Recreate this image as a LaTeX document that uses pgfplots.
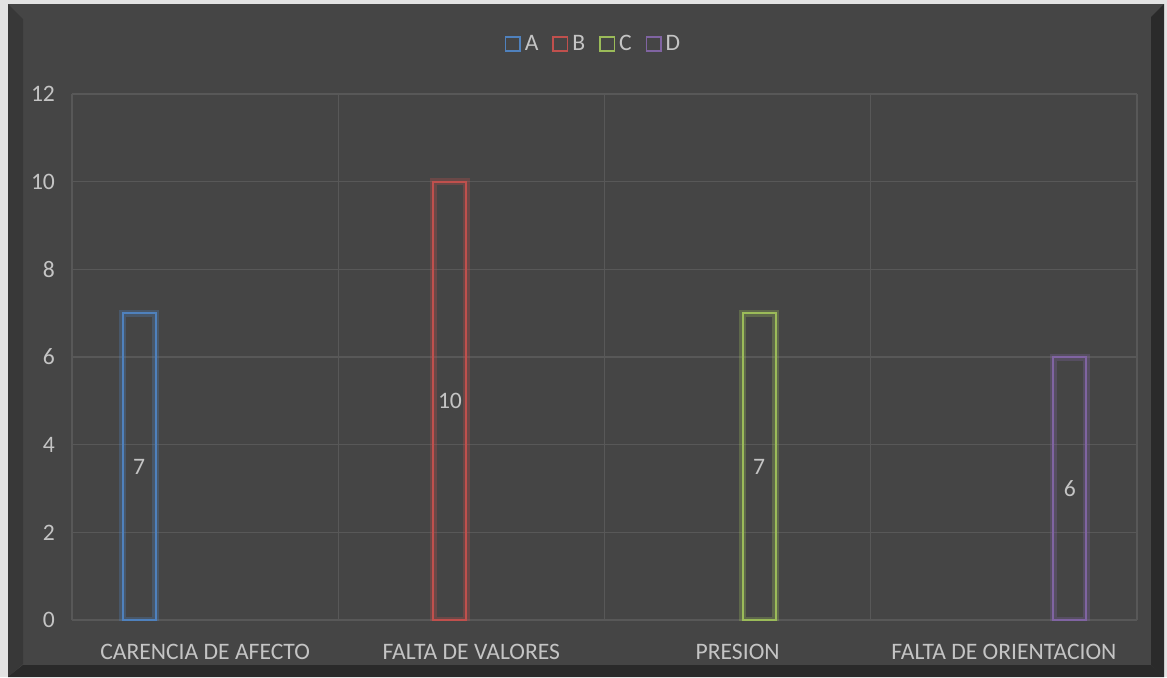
\documentclass[border=0pt]{standalone}
\usepackage{fontspec}
\setmainfont{Carlito}
\usepackage{pgfplots}
\pgfplotsset{compat=1.18}
\definecolor{bgFace}{HTML}{454545}
\definecolor{frameLight}{HTML}{E3E3E3}
\definecolor{bevelL}{HTML}{383838}
\definecolor{bevelD}{HTML}{2A2A2A}
\definecolor{gridC}{HTML}{585858}
\definecolor{txtC}{HTML}{C4C4C4}
\definecolor{serA}{HTML}{4F81BD}
\definecolor{serB}{HTML}{C0504D}
\definecolor{serC}{HTML}{9BBB59}
\definecolor{serD}{HTML}{8064A2}

\pgfplotsset{
  glow/.style={forget plot, fill=none, draw=#1, draw opacity=0.3, line width=3.5pt},
  edge/.style={fill=none, draw=#1, line width=1pt,
    nodes near coords,
    visualization depends on=rawy \as \rawy,
    every node near coord/.append style={txtC, font=\fontsize{11.8}{14}\selectfont,
      anchor=center, yshift={-\rawy*10.9583pt}}},
}

\begin{document}
\begin{tikzpicture}
% frame, drawn in pixel units of the original picture
\begin{scope}[x=0.5pt,y=-0.5pt]
\useasboundingbox (0,0) rectangle (1167,677);
\fill[frameLight] (0,0) rectangle (1167,677);
\fill[bgFace] (8,4) rectangle (1164,677);
\fill[bevelL] (8,4) -- (23,19) -- (23,664) -- (8,677) -- cycle;
\fill[bevelD] (1164,4) -- (1151,17) -- (1151,665) -- (1164,677) -- cycle;
\fill[bevelD] (8,677) -- (23,665) -- (1151,665) -- (1164,677) -- cycle;
\end{scope}

\begin{axis}[
  at={(36pt,-310pt)}, anchor=south west,
  scale only axis, width=532.5pt, height=263pt,
  xmin=-0.5, xmax=3.5, ymin=0, ymax=12,
  ytick={0,2,...,12},
  xtick={-0.5,0.5,1.5,2.5,3.5}, xticklabels={},
  extra x ticks={0,1,2,3},
  extra x tick labels={CARENCIA DE AFECTO,FALTA DE VALORES,PRESION,FALTA DE ORIENTACION},
  extra x tick style={grid=none},
  grid=major, grid style={gridC, line width=0.6pt},
  axis line style={draw=none},
  major tick length=0pt,
  tick label style={txtC, font=\fontsize{11.8}{14}\selectfont},
  /pgf/number format/assume math mode=true,
  yticklabel style={xshift=-5pt},
  xticklabel style={yshift=-8.5pt},
  ybar, bar width=16.5pt,
  legend columns=4,
  legend image code/.code={\draw[#1, line width=0.75pt] (0pt,-3.6pt) rectangle (7.2pt,3.6pt);},
  legend style={draw=none, fill=none, text=txtC, font=\fontsize{11.8}{14}\selectfont,
    at={(0.5,1)}, anchor=center, yshift=25pt, xshift=-5pt,
    /tikz/every even column/.append style={column sep=5pt}},
]
\addplot[glow=serA, bar shift=-33pt] coordinates {(0,7)};
\addplot[edge=serA, bar shift=-33pt] coordinates {(0,7)};
\addlegendentry{A}
\addplot[glow=serB, bar shift=-10.7pt] coordinates {(1,10)};
\addplot[edge=serB, bar shift=-10.7pt] coordinates {(1,10)};
\addlegendentry{B}
\addplot[glow=serC, bar shift=10.7pt] coordinates {(2,7)};
\addplot[edge=serC, bar shift=10.7pt] coordinates {(2,7)};
\addlegendentry{C}
\addplot[glow=serD, bar shift=33pt] coordinates {(3,6)};
\addplot[edge=serD, bar shift=33pt] coordinates {(3,6)};
\addlegendentry{D}
\end{axis}
\end{tikzpicture}
\end{document}
